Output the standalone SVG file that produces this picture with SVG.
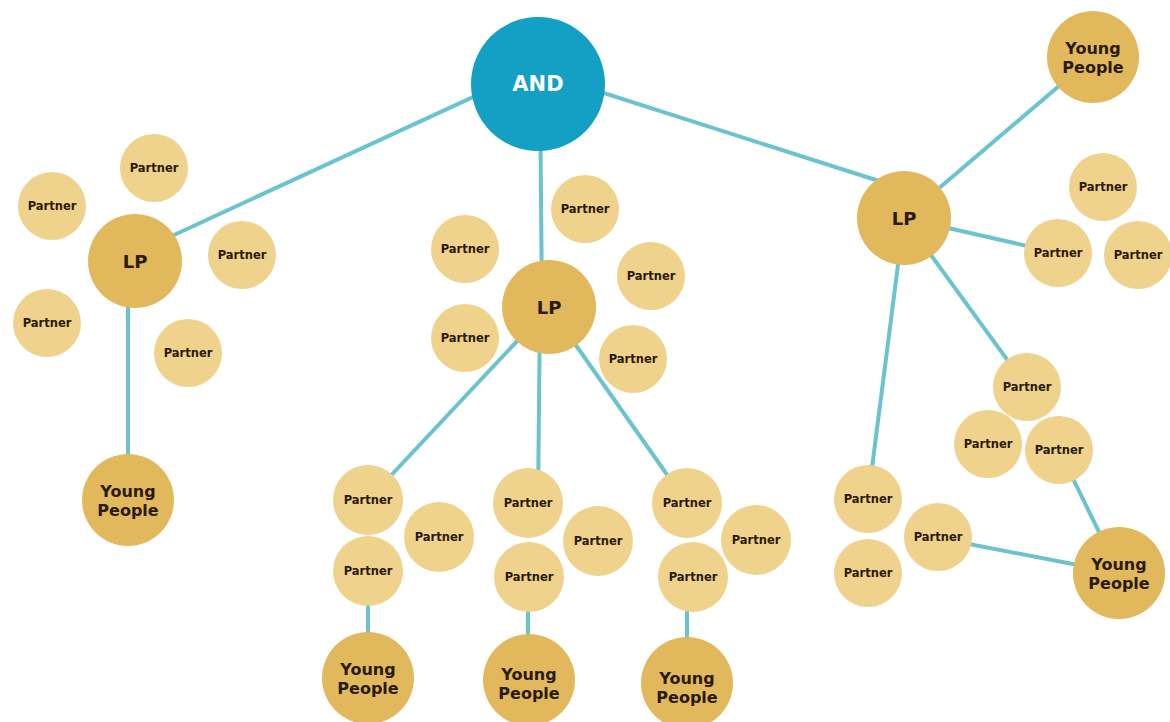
<svg xmlns="http://www.w3.org/2000/svg" width="1170" height="722" viewBox="0 0 1170 722">
<style>
.ln{stroke:#6bc3cf;stroke-width:4;fill:none;stroke-linecap:round}
.and{fill:#14a0c4}
.lp{fill:#e1b95c}
.yp{fill:#e1b95c}
.pt{fill:#efd28b}
text{font-family:"DejaVu Sans","Liberation Sans",sans-serif;font-weight:bold;fill:#2b1a0a;text-anchor:middle;dominant-baseline:central}
.tp{font-size:11.5px}
.ty{font-size:16px}
.tl{font-size:18px}
.ta{font-size:21px;fill:#ffffff}
</style>
<rect width="1170" height="722" fill="#ffffff"/>
<g id="connectors">
<line class="ln" x1="538" y1="67" x2="135" y2="253"/>
<line class="ln" x1="128" y1="261" x2="128" y2="500"/>
<line class="ln" x1="540" y1="84" x2="542" y2="307"/>
<line class="ln" x1="549" y1="307" x2="368" y2="500"/>
<line class="ln" x1="540" y1="307" x2="538" y2="503"/>
<line class="ln" x1="549" y1="307" x2="687" y2="503"/>
<line class="ln" x1="368" y1="571" x2="368" y2="678"/>
<line class="ln" x1="528" y1="577" x2="528" y2="680"/>
<line class="ln" x1="687" y1="577" x2="687" y2="683"/>
<line class="ln" x1="538" y1="72" x2="904" y2="189"/>
<line class="ln" x1="904" y1="218" x2="1093" y2="57"/>
<line class="ln" x1="904" y1="218" x2="1058" y2="253"/>
<line class="ln" x1="904" y1="218" x2="868" y2="499"/>
<line class="ln" x1="904" y1="218" x2="1027" y2="387"/>
<line class="ln" x1="1059" y1="450" x2="1119" y2="573"/>
<line class="ln" x1="938" y1="538" x2="1119" y2="573"/>
</g>
<g id="and"><circle class="and" cx="538" cy="84" r="67"/><text class="ta" x="538" y="84">AND</text></g>
<g id="lp-left"><circle class="lp" cx="135" cy="261" r="47"/><text class="tl" x="135" y="261">LP</text></g>
<g id="p-l1"><circle class="pt" cx="154" cy="168" r="34"/><text class="tp" x="154" y="168">Partner</text></g>
<g id="p-l2"><circle class="pt" cx="52" cy="206" r="34"/><text class="tp" x="52" y="206">Partner</text></g>
<g id="p-l3"><circle class="pt" cx="242" cy="255" r="34"/><text class="tp" x="242" y="255">Partner</text></g>
<g id="p-l4"><circle class="pt" cx="47" cy="323" r="34"/><text class="tp" x="47" y="323">Partner</text></g>
<g id="p-l5"><circle class="pt" cx="188" cy="353" r="34"/><text class="tp" x="188" y="353">Partner</text></g>
<g id="yp-left"><circle class="yp" cx="128" cy="500" r="46"/><text class="ty" x="128" y="491">Young</text><text class="ty" x="128" y="510">People</text></g>
<g id="lp-mid"><circle class="lp" cx="549" cy="307" r="47"/><text class="tl" x="549" y="307">LP</text></g>
<g id="p-m1"><circle class="pt" cx="585" cy="209" r="34"/><text class="tp" x="585" y="209">Partner</text></g>
<g id="p-m2"><circle class="pt" cx="465" cy="249" r="34"/><text class="tp" x="465" y="249">Partner</text></g>
<g id="p-m3"><circle class="pt" cx="651" cy="276" r="34"/><text class="tp" x="651" y="276">Partner</text></g>
<g id="p-m4"><circle class="pt" cx="465" cy="338" r="34"/><text class="tp" x="465" y="338">Partner</text></g>
<g id="p-m5"><circle class="pt" cx="633" cy="359" r="34"/><text class="tp" x="633" y="359">Partner</text></g>
<g id="p-a1"><circle class="pt" cx="368" cy="500" r="35"/><text class="tp" x="368" y="500">Partner</text></g>
<g id="p-a2"><circle class="pt" cx="439" cy="537" r="35"/><text class="tp" x="439" y="537">Partner</text></g>
<g id="p-a3"><circle class="pt" cx="368" cy="571" r="35"/><text class="tp" x="368" y="571">Partner</text></g>
<g id="yp-a"><circle class="yp" cx="368" cy="678" r="46"/><text class="ty" x="368" y="669">Young</text><text class="ty" x="368" y="688">People</text></g>
<g id="p-b1"><circle class="pt" cx="528" cy="503" r="35"/><text class="tp" x="528" y="503">Partner</text></g>
<g id="p-b2"><circle class="pt" cx="598" cy="541" r="35"/><text class="tp" x="598" y="541">Partner</text></g>
<g id="p-b3"><circle class="pt" cx="529" cy="577" r="35"/><text class="tp" x="529" y="577">Partner</text></g>
<g id="yp-b"><circle class="yp" cx="529" cy="680" r="46"/><text class="ty" x="529" y="674">Young</text><text class="ty" x="529" y="693">People</text></g>
<g id="p-c1"><circle class="pt" cx="687" cy="503" r="35"/><text class="tp" x="687" y="503">Partner</text></g>
<g id="p-c2"><circle class="pt" cx="756" cy="540" r="35"/><text class="tp" x="756" y="540">Partner</text></g>
<g id="p-c3"><circle class="pt" cx="693" cy="577" r="35"/><text class="tp" x="693" y="577">Partner</text></g>
<g id="yp-c"><circle class="yp" cx="687" cy="683" r="46"/><text class="ty" x="687" y="678">Young</text><text class="ty" x="687" y="697">People</text></g>
<g id="lp-right"><circle class="lp" cx="904" cy="218" r="47"/><text class="tl" x="904" y="218">LP</text></g>
<g id="yp-top"><circle class="yp" cx="1093" cy="57" r="46"/><text class="ty" x="1093" y="48">Young</text><text class="ty" x="1093" y="67">People</text></g>
<g id="p-r1"><circle class="pt" cx="1103" cy="187" r="34"/><text class="tp" x="1103" y="187">Partner</text></g>
<g id="p-r2"><circle class="pt" cx="1058" cy="253" r="34"/><text class="tp" x="1058" y="253">Partner</text></g>
<g id="p-r3"><circle class="pt" cx="1138" cy="255" r="34"/><text class="tp" x="1138" y="255">Partner</text></g>
<g id="p-r4"><circle class="pt" cx="1027" cy="387" r="34"/><text class="tp" x="1027" y="387">Partner</text></g>
<g id="p-r5"><circle class="pt" cx="988" cy="444" r="34"/><text class="tp" x="988" y="444">Partner</text></g>
<g id="p-r6"><circle class="pt" cx="1059" cy="450" r="34"/><text class="tp" x="1059" y="450">Partner</text></g>
<g id="p-r7"><circle class="pt" cx="868" cy="499" r="34"/><text class="tp" x="868" y="499">Partner</text></g>
<g id="p-r8"><circle class="pt" cx="938" cy="537" r="34"/><text class="tp" x="938" y="537">Partner</text></g>
<g id="p-r9"><circle class="pt" cx="868" cy="573" r="34"/><text class="tp" x="868" y="573">Partner</text></g>
<g id="yp-right"><circle class="yp" cx="1119" cy="573" r="46"/><text class="ty" x="1119" y="564">Young</text><text class="ty" x="1119" y="583">People</text></g>
</svg>
